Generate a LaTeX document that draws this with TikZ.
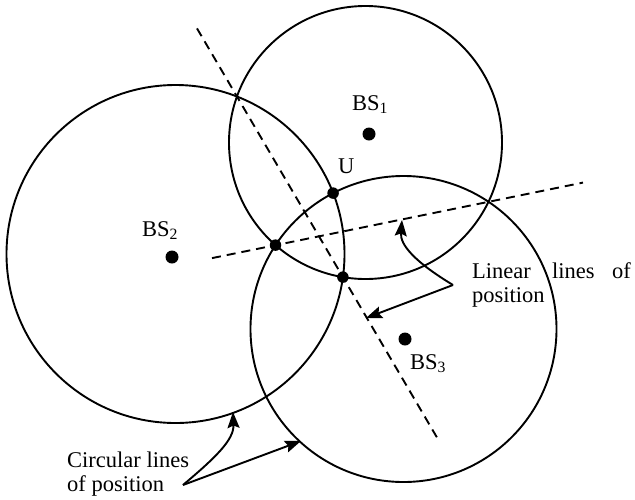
\documentclass[tikz,border=0pt]{standalone}
\usepackage{fontspec}
\setmainfont{Liberation Serif}
\usetikzlibrary{arrows.meta}
\begin{document}
\begin{tikzpicture}[x=1pt,y=-1pt,
  circ/.style={line width=1.9pt},
  dline/.style={line width=1.9pt, dash pattern=on 9pt off 6pt},
  bsdot/.style={circle,fill=black,inner sep=0pt,minimum size=13pt},
  xdot/.style={circle,fill=black,inner sep=0pt,minimum size=11.5pt},
  lbl/.style={inner sep=0pt,anchor=base west,font=\fontsize{22.5}{25}\selectfont},
  arr/.style={line width=1.9pt,-{Stealth[length=16pt,width=12pt,inset=2.5pt]}}]
\useasboundingbox (0,0) rectangle (635,499);
% circles
\coordinate (c1) at (365.5,142.5);
\coordinate (c2) at (175.5,254);
\coordinate (c3) at (403.5,329);
\draw[circ] (c1) circle[radius=136.5pt];
\draw[circ] (c2) circle[radius=169pt];
\draw[circ] (c3) circle[radius=153pt];
% dashed linear lines of position
\coordinate (la) at (197,28.4);
\coordinate (lb) at (437,437.5);
\coordinate (ma) at (212,258.1);
\coordinate (mb) at (583,182.6);
\draw[dline] (la) -- (lb);
\draw[dline] (ma) -- (mb);
% base stations
\node[bsdot] (bs1) at (369,134) {};
\node[bsdot] (bs2) at (172,257) {};
\node[bsdot] (bs3) at (405,339) {};
% intersection points
\node[xdot] (u) at (333.1,193.1) {};
\node[xdot] (p13) at (275.5,245.1) {};
\node[xdot] (p12) at (342.9,277.1) {};
% labels
\node[lbl] (t1) at (352,110) {BS\textsubscript{1}};
\node[lbl] (t2) at (142,236) {BS\textsubscript{2}};
\node[lbl] (t3) at (410,369) {BS\textsubscript{3}};
\node[lbl] (tu) at (338,173) {U};
\node[lbl] (lin1) at (472,278) {Linear};
\node[lbl] (lin2) at (552,278) {lines};
\node[lbl,anchor=base east] (lin3) at (631,278) {of};
\node[lbl] (lin4) at (472,302) {position};
\node[lbl] (cir1) at (67,467) {Circular lines};
\node[lbl] (cir2) at (67,491) {of position};
% arrows
\coordinate (lv) at (453,285);
\coordinate (lt1) at (402,220);
\coordinate (lt2) at (366,318);
\draw[arr] (lv) .. controls (415,262) and (400,245) .. (lt1);
\draw[arr] (lv) -- (lt2);
\coordinate (cv) at (183,485);
\coordinate (ct1) at (233,412);
\coordinate (ct2) at (301,441);
\draw[arr] (cv) .. controls (215,458) and (234,440) .. (ct1);
\draw[arr] (cv) -- (ct2);
\end{tikzpicture}
\end{document}
